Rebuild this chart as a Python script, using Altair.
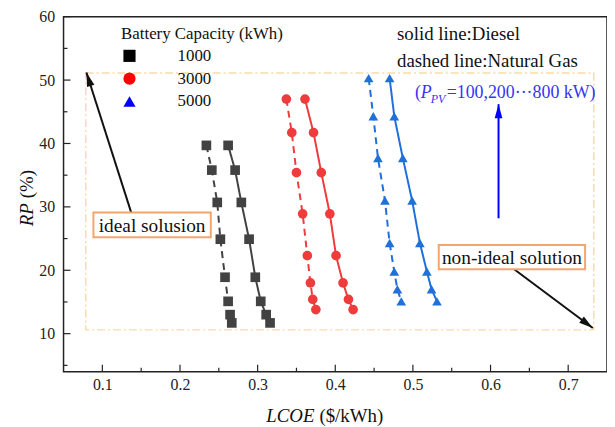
import math
import altair as alt
import pandas as pd

# ---------------- data ----------------
caps = ["1000", "3000", "5000"]

rp_1000 = [39.7, 35.8, 30.7, 24.9, 18.9, 15.1, 13.0, 11.7]
lcoe_1000_diesel = [0.262, 0.271, 0.279, 0.289, 0.297, 0.304, 0.311, 0.316]
lcoe_1000_gas = [0.234, 0.241, 0.248, 0.252, 0.258, 0.262, 0.2645, 0.2667]

rp_3000 = [47.0, 41.7, 35.4, 28.9, 22.3, 18.0, 15.4, 13.8]
lcoe_3000_diesel = [0.361, 0.372, 0.382, 0.393, 0.401, 0.410, 0.417, 0.423]
lcoe_3000_gas = [0.337, 0.344, 0.350, 0.358, 0.364, 0.368, 0.371, 0.375]

rp_5000 = [50.3, 44.3, 37.7, 31.0, 24.3, 19.8, 17.0, 15.1]
lcoe_5000_diesel = [0.470, 0.476, 0.487, 0.499, 0.509, 0.518, 0.524, 0.531]
lcoe_5000_gas = [0.443, 0.449, 0.455, 0.464, 0.470, 0.476, 0.480, 0.485]

x_major = [0.1, 0.2, 0.3, 0.4, 0.5, 0.6, 0.7]
x_minor = [0.15, 0.25, 0.35, 0.45, 0.55, 0.65]
y_major = [10, 20, 30, 40, 50, 60]
y_minor = [5, 15, 25, 35, 45, 55]

# ---------------- build tables ----------------
rows = []
for cap, rp, dsl, gas in [("1000", rp_1000, lcoe_1000_diesel, lcoe_1000_gas),
                          ("3000", rp_3000, lcoe_3000_diesel, lcoe_3000_gas),
                          ("5000", rp_5000, lcoe_5000_diesel, lcoe_5000_gas)]:
    for i, (r, d, g) in enumerate(zip(rp, dsl, gas)):
        rows.append({"cap": cap, "fuel": "Diesel", "rp": r, "lcoe": d, "ord": i})
        rows.append({"cap": cap, "fuel": "Natural Gas", "rp": r, "lcoe": g, "ord": i})
df = pd.DataFrame(rows)

W, H = 548, 358
XD = [0.05, 0.75]
YD = [4, 60]
FONT = "Liberation Serif"

def px(x, y):
    return ((x - XD[0]) / (XD[1] - XD[0]) * W, (YD[1] - y) / (YD[1] - YD[0]) * H)

def head_angle(x0, y0, x1, y1):
    a, b = px(x0, y0)
    c, d = px(x1, y1)
    return (math.degrees(math.atan2(c - a, -(d - b)))) % 360

xs = alt.Scale(domain=XD, nice=False, zero=False)
ys = alt.Scale(domain=YD, nice=False, zero=False)

series_colors = ["#424242", "#ef3b3b", "#1f70d8"]
shapes = ["square", "circle", "triangle-up"]

base = alt.Chart(df)

lines = base.mark_line(strokeWidth=2).encode(
    x=alt.X("lcoe:Q", scale=xs,
            axis=alt.Axis(values=x_major, format=".1f", ticks=False, tickSize=0,
                          domain=False, grid=False, labelPadding=5, title=None,
                          labelFont=FONT, labelFontSize=16, labelColor="#222")),
    y=alt.Y("rp:Q", scale=ys,
            axis=alt.Axis(values=y_major, format="d", ticks=False, tickSize=0,
                          domain=False, grid=False, labelPadding=9, title=None,
                          labelFont=FONT, labelFontSize=16, labelColor="#222")),
    color=alt.Color("cap:N", scale=alt.Scale(domain=caps, range=series_colors), legend=None),
    strokeDash=alt.StrokeDash("fuel:N", scale=alt.Scale(domain=["Diesel", "Natural Gas"],
                                                        range=[[1, 0], [7, 5]]), legend=None),
    detail=["cap:N", "fuel:N"],
    order=alt.Order("ord:Q"),
)

points = base.mark_point(filled=True, size=95, opacity=1).encode(
    x=alt.X("lcoe:Q", scale=xs),
    y=alt.Y("rp:Q", scale=ys),
    color=alt.Color("cap:N", scale=alt.Scale(domain=caps, range=series_colors), legend=None),
    shape=alt.Shape("cap:N", scale=alt.Scale(domain=caps, range=shapes), legend=None),
)

legend_layer = base.transform_filter("false").mark_point(filled=True, opacity=1).encode(
    x=alt.X("lcoe:Q", scale=xs),
    y=alt.Y("rp:Q", scale=ys),
    color=alt.Color("cap:N", scale=alt.Scale(domain=caps, range=["#000000", "#ff0000", "#0000ff"]),
                    legend=alt.Legend(title="Battery Capacity (kWh)", orient="none",
                                      legendX=58, legendY=10, padding=0,
                                      titleFont=FONT, titleFontSize=17, titleFontWeight="normal",
                                      titleColor="#111", titlePadding=4,
                                      labelFont=FONT, labelFontSize=17, labelColor="#111",
                                      labelOffset=40, symbolSize=150, symbolOpacity=1,
                                      symbolStrokeWidth=0, rowPadding=5)),
    shape=alt.Shape("cap:N", scale=alt.Scale(domain=caps, range=shapes),
                    legend=alt.Legend(title="Battery Capacity (kWh)", orient="none",
                                      legendX=58, legendY=10)),
)

# ---------------- inward ticks ----------------
xt_major = alt.Chart(pd.DataFrame({"v": x_major})).mark_rule(color="#222", strokeWidth=1.2).encode(
    x=alt.X("v:Q", scale=xs), y=alt.value(H), y2=alt.value(H - 7))
xt_minor = alt.Chart(pd.DataFrame({"v": x_minor})).mark_rule(color="#222", strokeWidth=1.2).encode(
    x=alt.X("v:Q", scale=xs), y=alt.value(H), y2=alt.value(H - 4))
yt_major = alt.Chart(pd.DataFrame({"v": y_major})).mark_rule(color="#222", strokeWidth=1.2).encode(
    y=alt.Y("v:Q", scale=ys), x=alt.value(0), x2=alt.value(7))
yt_minor = alt.Chart(pd.DataFrame({"v": y_minor})).mark_rule(color="#222", strokeWidth=1.2).encode(
    y=alt.Y("v:Q", scale=ys), x=alt.value(0), x2=alt.value(4))

# ---------------- annotations ----------------
frame_box = alt.Chart(pd.DataFrame({"x": [0.0786], "x2": [0.733], "y": [51.1], "y2": [10.6]})).mark_rect(
    fill="white", fillOpacity=0, stroke="#f7dca8", strokeWidth=1.5, strokeDash=[8, 3, 2, 3]).encode(
    x=alt.X("x:Q", scale=xs), x2="x2", y=alt.Y("y:Q", scale=ys), y2="y2")

boxes = pd.DataFrame({
    "x": [0.0885, 0.5333], "x2": [0.2397, 0.7218],
    "y": [29.1, 24.0], "y2": [25.2, 20.15],
    "xc": [0.1641, 0.6276], "yc": [27.15, 22.07],
    "label": ["ideal solusion", "non-ideal solution"],
})
box_rects = alt.Chart(boxes).mark_rect(fill="white", stroke="#f4a56a", strokeWidth=2).encode(
    x=alt.X("x:Q", scale=xs), x2="x2", y=alt.Y("y:Q", scale=ys), y2="y2")
box_text = alt.Chart(boxes).mark_text(font=FONT, fontSize=19.5, color="#111", baseline="middle",
                                      align="center", dy=1).encode(
    x=alt.X("xc:Q", scale=xs), y=alt.Y("yc:Q", scale=ys), text="label:N")

arrows = pd.DataFrame({
    "x": [0.1372, 0.6304, 0.6103], "y": [29.1, 20.15, 28.2],
    "x2": [0.0795, 0.7317, 0.6103], "y2": [51.2, 10.9, 46.2],
    "col": ["#111111", "#111111", "#0000ff"],
})
arrows["ang"] = [head_angle(r.x, r.y, r.x2, r.y2) for r in arrows.itertuples()]
arrow_lines = alt.Chart(arrows).mark_rule(strokeWidth=2).encode(
    x=alt.X("x:Q", scale=xs), y=alt.Y("y:Q", scale=ys), x2="x2", y2="y2",
    color=alt.Color("col:N", scale=None))
arrow_heads = alt.Chart(arrows).mark_point(shape="M0,0L0.55,2L-0.55,2Z", filled=True, size=200,
                                           opacity=1).encode(
    x=alt.X("x2:Q", scale=xs), y=alt.Y("y2:Q", scale=ys),
    angle=alt.Angle("ang:Q", scale=None),
    color=alt.Color("col:N", scale=None))

notes = pd.DataFrame({"x": [0.4795, 0.4795], "y": [56.4, 52.0],
                      "t": ["solid line:Diesel", "dashed line:Natural Gas"]})
note_text = alt.Chart(notes).mark_text(font=FONT, fontSize=19, color="#111", align="left",
                                       baseline="alphabetic").encode(
    x=alt.X("x:Q", scale=xs), y=alt.Y("y:Q", scale=ys), text="t:N")

pv = pd.DataFrame({"x": [0.5026] * 4, "y": [47.2] * 4,
                   "t": ["(", "P", "PV", "=100,200\u00b7\u00b7\u00b7800 kW)"],
                   "dx": [0, 6, 16, 32], "dy": [0, 0, 5, 0],
                   "fs": [18, 18, 12, 18], "st": ["normal", "italic", "italic", "normal"]})
pv_layers = []
for _, r in pv.iterrows():
    pv_layers.append(alt.Chart(pd.DataFrame([r])).mark_text(
        font=FONT, fontSize=float(r.fs), fontStyle=r.st, color="#3535f5", align="left",
        baseline="alphabetic", dx=float(r.dx), dy=float(r.dy)).encode(
        x=alt.X("x:Q", scale=xs), y=alt.Y("y:Q", scale=ys), text="t:N"))

one = pd.DataFrame({"a": [0]})
xt1 = alt.Chart(one).mark_text(text="LCOE", font=FONT, fontSize=19, fontStyle="italic", align="right",
                               baseline="alphabetic", color="#111").encode(
    x=alt.value(253), y=alt.value(409))
xt2 = alt.Chart(one).mark_text(text="($/kWh)", font=FONT, fontSize=19, align="left",
                               baseline="alphabetic", color="#111").encode(
    x=alt.value(258), y=alt.value(409))
yt1 = alt.Chart(one).mark_text(text="RP", font=FONT, fontSize=19, fontStyle="italic", align="right",
                               baseline="alphabetic", angle=270, color="#111").encode(
    x=alt.value(-31), y=alt.value(188))
yt2 = alt.Chart(one).mark_text(text="(%)", font=FONT, fontSize=19, align="left",
                               baseline="alphabetic", angle=270, color="#111").encode(
    x=alt.value(-31), y=alt.value(183))

chart = alt.layer(
    frame_box, lines, points, legend_layer,
    xt_major, xt_minor, yt_major, yt_minor,
    arrow_lines, arrow_heads, box_rects, box_text, note_text, *pv_layers,
    xt1, xt2, yt1, yt2,
).resolve_scale(color="independent", shape="independent").properties(
    width=W, height=H,
    autosize=alt.AutoSizeParams(type="none"),
    padding={"left": 56, "top": 7, "right": 0, "bottom": 54},
).configure_view(stroke="#222", strokeWidth=1.5).configure_axis(
    labelFont=FONT, labelFontSize=16, labelColor="#222"
)

chart.save("out.html", embed_options={"renderer": "svg", "actions": False})
